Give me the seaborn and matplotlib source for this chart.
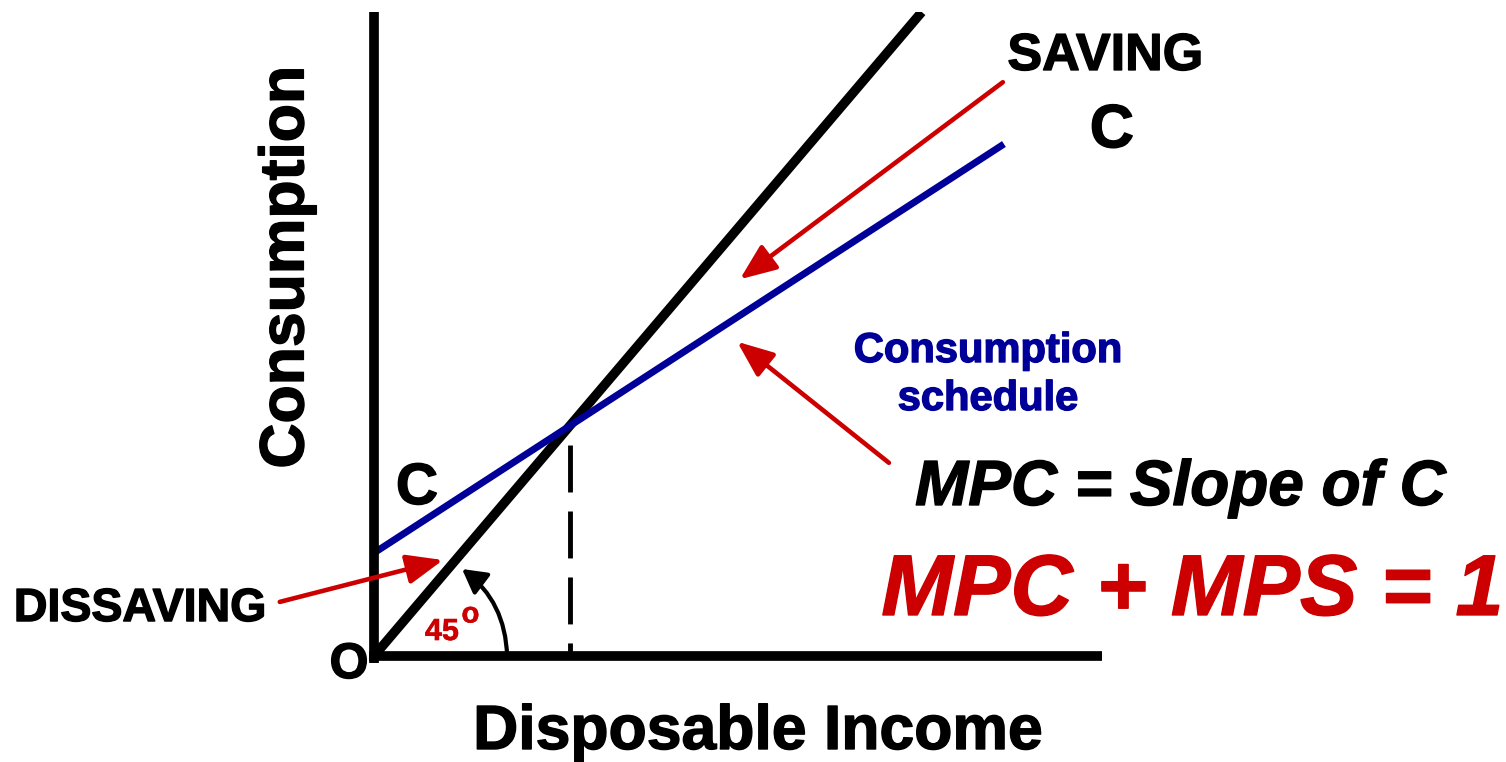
import matplotlib
matplotlib.use("Agg")
import matplotlib.pyplot as plt
import matplotlib.patheffects as pe
from matplotlib.patches import FancyArrowPatch
import seaborn as sns

# ---- data -------------------------------------------------------------
# 45-degree reference line (consumption equals income)
ref_income = [0.0, 10.0]
ref_consumption = [0.0, 10.0]

# consumption schedule C = a + MPC * Yd
sched_income = [0.0, 11.5]
sched_consumption = [1.6, 7.95]

# ---- style ------------------------------------------------------------
sns.set_theme(style="white")
plt.rcParams["font.family"] = ["Liberation Sans", "DejaVu Sans"]
plt.rcParams["lines.scale_dashes"] = False

RED = "#CC0000"
BLUE = "#000099"

fig = plt.figure(figsize=(15.06, 7.62), dpi=100)
ax = fig.add_axes([374 / 1506, 106 / 762, 728 / 1506, 644 / 762])
ax.set_xlim(0, 13.29)
ax.set_ylim(0, 10)

# reference line and consumption schedule
sns.lineplot(x=ref_income, y=ref_consumption, ax=ax, color="black",
             linewidth=6.8, solid_capstyle="butt", zorder=3)
sns.lineplot(x=sched_income, y=sched_consumption, ax=ax, color=BLUE,
             linewidth=5, solid_capstyle="butt", zorder=4)

# break-even income: where the schedule crosses the 45-degree line
a = sched_consumption[0]
mpc = (sched_consumption[1] - sched_consumption[0]) / (sched_income[1] - sched_income[0])
x_be = a / (1 - mpc)
ax.plot([x_be, x_be], [x_be, 0], color="black", linewidth=3.5,
        linestyle=(33.8, (33.8, 13.7)), solid_capstyle="butt",
        dash_capstyle="butt", zorder=2)

# axes frame: only the left and bottom spines, thick
for side in ("top", "right"):
    ax.spines[side].set_visible(False)
for side in ("left", "bottom"):
    sp = ax.spines[side]
    sp.set_linewidth(7)
    sp.set_color("black")
    sp.set_capstyle("butt")
    sp.set_zorder(5)
ax.spines["left"].set_bounds(-0.11, 10)
ax.spines["bottom"].set_bounds(-0.09, 13.29)
ax.set_xticks([])
ax.set_yticks([])
ax.set_xlabel("")
ax.set_ylabel("")
ax.patch.set_alpha(0)


def label(x, y, s, size, color="black", stroke=1.0, **kw):
    ax.text(x, y, s, fontsize=size, color=color, fontweight="bold",
            clip_on=False,
            path_effects=[pe.withStroke(linewidth=stroke, foreground=color)],
            **kw)


# axis titles
label(-1.59, 6.04, "Consumption", 45, rotation=90, ha="center", va="center")
label(7.01, -1.444, "Disposable Income", 45, ha="center", va="baseline")

# labels
label(13.35, 9.10, "SAVING", 37.5, ha="center", va="baseline")
label(13.47, 7.90, "C", 44, ha="center", va="baseline")
label(0.785, 2.36, "C", 42, ha="center", va="baseline")
label(-0.456, -0.342, "O", 36, ha="center", va="baseline")
label(-4.27, 0.543, "DISSAVING", 33.5, ha="center", va="baseline")
label(1.24, 0.248, "45", 22, color=RED, stroke=0.4, ha="center", va="baseline")
label(1.76, 0.52, "o", 21, color=RED, stroke=0.4, ha="center", va="baseline")
label(11.21, 4.565, "Consumption", 30, color=BLUE, ha="center", va="baseline")
label(11.21, 3.82, "schedule", 30, color=BLUE, ha="center", va="baseline")
label(14.72, 2.345, "MPC = Slope of C", 46, ha="center", va="baseline",
      fontstyle="italic")
label(14.94, 0.637, "MPC + MPS = 1", 62, color=RED, ha="center", va="baseline",
      fontstyle="italic")

# red pointer arrows
red_arrows = [
    ((11.48, 8.91), (6.68, 5.85)),   # saving
    ((9.40, 3.00), (6.63, 4.88)),    # consumption schedule / MPC
    ((-1.72, 0.84), (1.26, 1.49)),   # dissaving
]
for start, end in red_arrows:
    arr = FancyArrowPatch(start, end, arrowstyle="-|>,head_length=1.1,head_width=0.45",
                          mutation_scale=20, color=RED, linewidth=3.3,
                          shrinkA=0, shrinkB=0, clip_on=False, zorder=6)
    ax.add_patch(arr)

# curved arrow marking the 45-degree angle
arc = FancyArrowPatch((2.43, 0.0), (1.607, 1.351),
                      connectionstyle="arc3,rad=0.24",
                      arrowstyle="-|>,head_length=0.9,head_width=0.5",
                      mutation_scale=16, color="black", linewidth=3,
                      shrinkA=0, shrinkB=0, clip_on=False, zorder=6)
ax.add_patch(arc)

fig.savefig("out.png", dpi=100)
